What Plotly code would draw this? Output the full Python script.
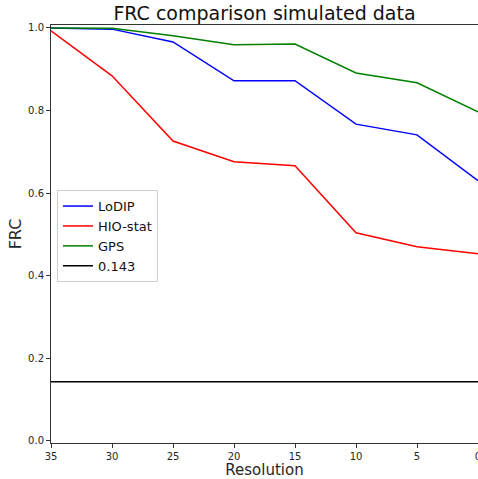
import plotly.graph_objects as go

resolution = [35, 30, 25, 20, 15, 10, 5, 0]
lodip = [1.0, 0.997, 0.966, 0.872, 0.872, 0.767, 0.741, 0.630]
hio_stat = [0.993, 0.884, 0.726, 0.676, 0.666, 0.504, 0.470, 0.453]
gps = [1.0, 0.999, 0.981, 0.959, 0.961, 0.891, 0.867, 0.797]
threshold = 0.143
x_ticks = [35, 30, 25, 20, 15, 10, 5, 0]
y_ticks = [0.0, 0.2, 0.4, 0.6, 0.8, 1.0]

fig = go.Figure()
fig.add_trace(go.Scatter(x=resolution, y=lodip, mode="lines", name="LoDIP",
                         line=dict(color="blue", width=1.5)))
fig.add_trace(go.Scatter(x=resolution, y=hio_stat, mode="lines", name="HIO-stat",
                         line=dict(color="red", width=1.5)))
fig.add_trace(go.Scatter(x=resolution, y=gps, mode="lines", name="GPS",
                         line=dict(color="green", width=1.5)))
fig.add_trace(go.Scatter(x=[resolution[0], resolution[-1]], y=[threshold, threshold],
                         mode="lines", name=str(threshold),
                         line=dict(color="black", width=1.5)))

font_family = "DejaVu Sans, sans-serif"
fig.update_layout(
    width=478, height=479,
    margin=dict(l=51, r=0, t=25, b=36),
    paper_bgcolor="white", plot_bgcolor="white",
    font=dict(family=font_family, color="#262626"),
    title=dict(text="FRC comparison simulated data", x=0.5, xanchor="center", xref="paper",
               y=0.985, yanchor="top", font=dict(size=19, color="#111")),
    showlegend=True,
    legend=dict(x=0.014, y=0.605, xanchor="left", yanchor="top",
                bgcolor="white", bordercolor="#d0d0d0", borderwidth=1,
                font=dict(size=13, color="#111"), tracegroupgap=0),
    xaxis=dict(range=[35, 0], tickvals=x_ticks, ticktext=[str(t) for t in x_ticks],
               showgrid=False, zeroline=False, showline=True, linecolor="#333",
               linewidth=1, mirror=True, ticks="outside", ticklen=4, tickcolor="#333",
               tickfont=dict(size=10), automargin=False, ticklabeloverflow="allow",
               title=dict(text="Resolution", font=dict(size=15), standoff=4)),
    yaxis=dict(range=[-0.005, 1.007], tickvals=y_ticks,
               ticktext=[f"{t:.1f}" for t in y_ticks],
               showgrid=False, zeroline=False, showline=True, linecolor="#333",
               linewidth=1, ticks="outside", ticklen=4, tickcolor="#333",
               tickfont=dict(size=10), automargin=False,
               title=dict(text="FRC", font=dict(size=16), standoff=2)),
)

fig.write_html("out.html")
